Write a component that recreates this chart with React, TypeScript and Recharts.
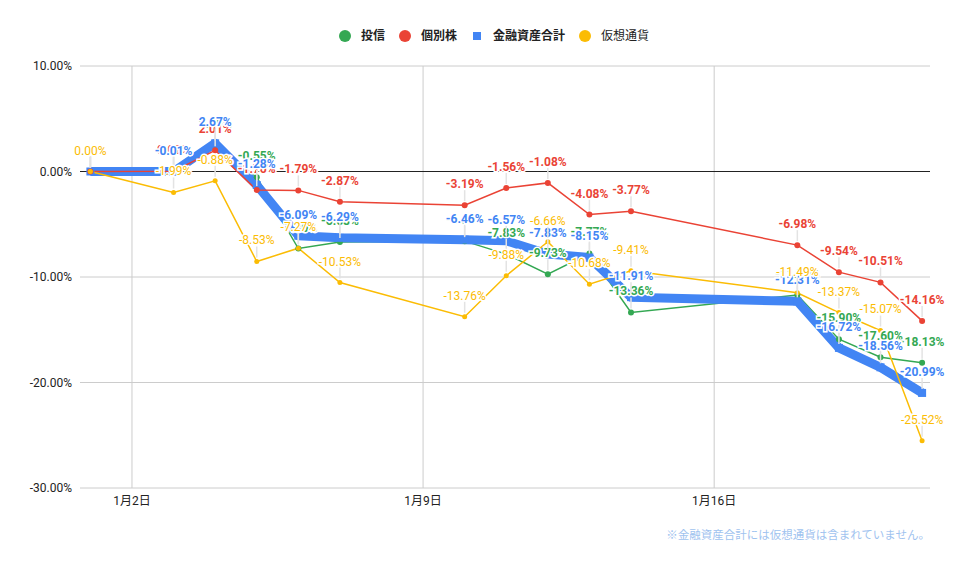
import { LineChart, Line, XAxis, YAxis, CartesianGrid, ReferenceLine, LabelList } from 'recharts';

// day of January for every sample
const days = [1, 3, 4, 5, 6, 7, 10, 11, 12, 13, 14, 18, 19, 20, 21];

// % change per series
const toushin = [0, -0.05, 2.55, -0.55, -7.3, -6.68, -6.6, -7.83, -9.73, -7.77, -13.36, -11.7, -15.9, -17.6, -18.13];
const kobetsu = [0, 0.02, 2.01, -1.76, -1.79, -2.87, -3.19, -1.56, -1.08, -4.08, -3.77, -6.98, -9.54, -10.51, -14.16];
const total = [0, -0.01, 2.67, -1.28, -6.09, -6.29, -6.46, -6.57, -7.83, -8.15, -11.91, -12.31, -16.72, -18.56, -20.99];
const crypto = [0, -1.99, -0.88, -8.53, -7.27, -10.53, -13.76, -9.88, -6.66, -10.68, -9.41, -11.49, -13.37, -15.07, -25.52];

const xTicks = [2, 9, 16];
const yTicks = [-30, -20, -10, 0, 10];

const data = days.map((d, i) => ({
  day: d,
  toushin: toushin[i],
  kobetsu: kobetsu[i],
  total: total[i],
  crypto: crypto[i],
}));

const FONT = "Roboto, 'Noto Sans CJK JP', sans-serif";

const GREEN = '#34a853';
const RED = '#ea4335';
const BLUE = '#4285f4';
const YELLOW = '#fbbc04';

const legendItems = [
  { name: '投信', color: GREEN, shape: 'circle', bold: true },
  { name: '個別株', color: RED, shape: 'circle', bold: true },
  { name: '金融資産合計', color: BLUE, shape: 'square', bold: true },
  { name: '仮想通貨', color: YELLOW, shape: 'circle', bold: false },
];

function makeLabel(color: string, bold: boolean) {
  return (props: any) => {
    const { x, y, value } = props;
    if (value == null) return null;
    return (
      <g>
        <line x1={x} x2={x} y1={y - 15} y2={y - 4} stroke="#e3e3e3" strokeWidth={1.5} />
        <text
          x={x}
          y={y - 17}
          textAnchor="middle"
          fontSize={12}
          fontFamily={FONT}
          fontWeight={bold ? 700 : 400}
          fill={color}
          stroke="#fff"
          strokeWidth={3}
          paintOrder="stroke"
        >
          {`${Number(value).toFixed(2)}%`}
        </text>
      </g>
    );
  };
}

const squareDot = (p: any) => (
  <rect key={`sq-${p.index}`} x={p.cx - 4} y={p.cy - 4} width={8} height={8} fill={BLUE} />
);

export default function App() {
  return (
    <div style={{ position: 'absolute', left: 0, top: 0, width: 960, height: 569, background: '#fff', fontFamily: FONT }}>
      <div style={{ position: 'absolute', left: 339, top: 28, display: 'flex', alignItems: 'center', height: 16 }}>
        {legendItems.map((it) => (
          <div key={it.name} style={{ display: 'flex', alignItems: 'center', marginRight: 14 }}>
            <div style={{ width: 12, height: 12, display: 'flex', alignItems: 'center', justifyContent: 'center' }}>
              {it.shape === 'circle' ? (
                <div style={{ width: 12, height: 12, borderRadius: 6, background: it.color }} />
              ) : (
                <div style={{ width: 8, height: 8, background: it.color }} />
              )}
            </div>
            <span style={{ marginLeft: 10, fontSize: 12, fontWeight: it.bold ? 700 : 400, color: '#222', lineHeight: '16px' }}>
              {it.name}
            </span>
          </div>
        ))}
      </div>

      <LineChart width={960} height={569} data={data} margin={{ top: 66, right: 30, bottom: 51, left: 0 }}>
        <CartesianGrid stroke="#cccccc" verticalValues={xTicks} horizontalValues={yTicks} />
        <XAxis
          dataKey="day"
          type="number"
          domain={[0.75, 21.19]}
          ticks={xTicks}
          tickFormatter={(v) => `1月${v}日`}
          axisLine={false}
          tickLine={false}
          tickSize={0}
          tickMargin={8}
          height={30}
          tick={{ fontSize: 12, fill: '#222', fontFamily: FONT }}
          allowDataOverflow
        />
        <YAxis
          width={80}
          domain={[-30, 10]}
          ticks={yTicks}
          tickFormatter={(v) => `${Number(v).toFixed(2)}%`}
          axisLine={false}
          tickLine={false}
          tick={{ fontSize: 12, fill: '#222', fontFamily: FONT }}
        />
        <ReferenceLine y={0} stroke="#222" strokeWidth={1} />

        <Line dataKey="toushin" stroke={GREEN} strokeWidth={1.5} dot={{ r: 3, fill: GREEN, stroke: GREEN, strokeWidth: 0 }} activeDot={false} isAnimationActive={false} />
        <Line dataKey="total" stroke={BLUE} strokeWidth={9} strokeLinejoin="round" dot={squareDot} activeDot={false} isAnimationActive={false} />
        <Line dataKey="kobetsu" stroke={RED} strokeWidth={1.5} dot={{ r: 3, fill: RED, stroke: RED, strokeWidth: 0 }} activeDot={false} isAnimationActive={false} />
        <Line dataKey="crypto" stroke={YELLOW} strokeWidth={1.5} dot={{ r: 2.5, fill: YELLOW, stroke: YELLOW, strokeWidth: 0 }} activeDot={false} isAnimationActive={false} />

        {/* label-only passes so every label sits above all lines */}
        <Line dataKey="toushin" stroke="none" dot={false} activeDot={false} legendType="none" isAnimationActive={false}>
          <LabelList dataKey="toushin" content={makeLabel(GREEN, true)} />
        </Line>
        <Line dataKey="kobetsu" stroke="none" dot={false} activeDot={false} legendType="none" isAnimationActive={false}>
          <LabelList dataKey="kobetsu" content={makeLabel(RED, true)} />
        </Line>
        <Line dataKey="total" stroke="none" dot={false} activeDot={false} legendType="none" isAnimationActive={false}>
          <LabelList dataKey="total" content={makeLabel(BLUE, true)} />
        </Line>
        <Line dataKey="crypto" stroke="none" dot={false} activeDot={false} legendType="none" isAnimationActive={false}>
          <LabelList dataKey="crypto" content={makeLabel(YELLOW, false)} />
        </Line>
      </LineChart>

      <div style={{ position: 'absolute', right: 30, top: 526, fontSize: 11.5, color: '#9fc3ef', whiteSpace: 'nowrap' }}>
        ※金融資産合計には仮想通貨は含まれていません。
      </div>
    </div>
  );
}
